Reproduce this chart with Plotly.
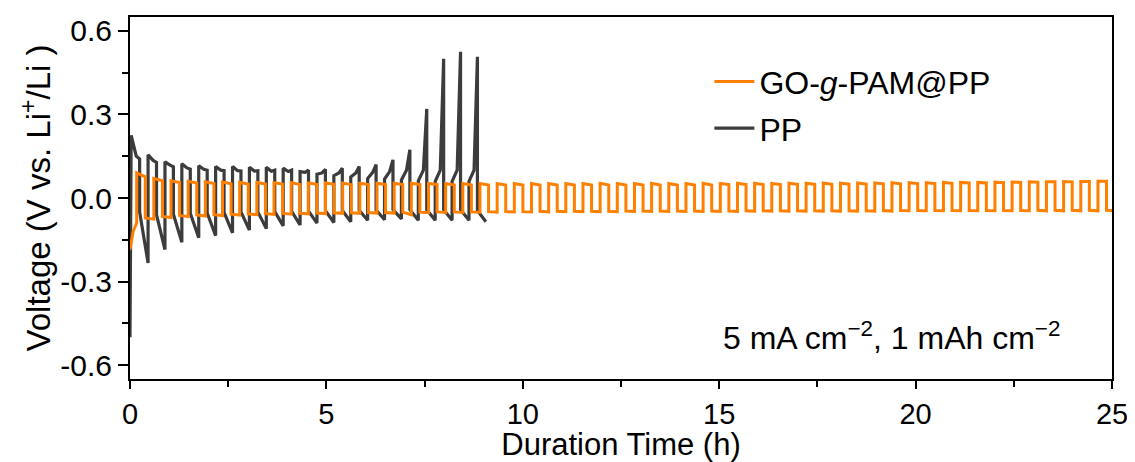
import plotly.graph_objects as go

# ---------------- data ----------------
# GO-g-PAM@PP (orange): lead-in, then square-wave cycles
GO_PERIOD_H = 0.437
GO_FIRST_UP_H = 0.17
go_lead_t = [0.0, 0.08, 0.17]
go_lead_v = [-0.185, -0.12, -0.09]
go_hi_start = [0.090, 0.070, 0.062, 0.060, 0.058, 0.057, 0.056, 0.056, 0.055, 0.055,
               0.054, 0.054, 0.054, 0.053, 0.053, 0.053, 0.053, 0.052, 0.052, 0.052,
               0.052, 0.052, 0.052, 0.052, 0.052, 0.052, 0.052, 0.053, 0.052, 0.052,
               0.053, 0.052, 0.052, 0.053, 0.052, 0.053, 0.053, 0.052, 0.053, 0.053,
               0.054, 0.053, 0.054, 0.054, 0.055, 0.055, 0.055, 0.056, 0.056, 0.056,
               0.057, 0.057, 0.058, 0.058, 0.059, 0.059, 0.060]
go_hi_end = [0.076, 0.062, 0.056, 0.054, 0.052, 0.051, 0.050, 0.050, 0.050, 0.049,
             0.049, 0.049, 0.048, 0.048, 0.048, 0.048, 0.048, 0.048, 0.047, 0.047,
             0.047, 0.047, 0.047, 0.047, 0.047, 0.047, 0.047, 0.047, 0.047, 0.047,
             0.047, 0.047, 0.047, 0.047, 0.048, 0.048, 0.048, 0.048, 0.049, 0.049,
             0.049, 0.050, 0.050, 0.051, 0.051, 0.052, 0.052, 0.053, 0.054, 0.054,
             0.055, 0.056, 0.057, 0.058, 0.058, 0.059, 0.060]
go_lo_start = [-0.072, -0.066, -0.063, -0.061, -0.060, -0.058, -0.057, -0.056, -0.055, -0.055,
               -0.054, -0.053, -0.053, -0.052, -0.052, -0.051, -0.051, -0.050, -0.050, -0.050,
               -0.049, -0.049, -0.049, -0.048, -0.048, -0.048, -0.048, -0.048, -0.047, -0.047,
               -0.047, -0.047, -0.047, -0.047, -0.047, -0.046, -0.046, -0.046, -0.046, -0.046,
               -0.046, -0.046, -0.046, -0.045, -0.045, -0.045, -0.045, -0.045, -0.045, -0.045,
               -0.045, -0.045, -0.044, -0.044, -0.044, -0.044, -0.044]
go_lo_end = [-0.076, -0.070, -0.067, -0.065, -0.063, -0.061, -0.060, -0.059, -0.058, -0.057,
             -0.056, -0.055, -0.055, -0.054, -0.054, -0.060, -0.053, -0.052, -0.052, -0.051,
             -0.051, -0.050, -0.050, -0.050, -0.049, -0.049, -0.049, -0.049, -0.048, -0.048,
             -0.048, -0.048, -0.048, -0.048, -0.048, -0.047, -0.047, -0.047, -0.047, -0.047,
             -0.047, -0.047, -0.047, -0.047, -0.046, -0.046, -0.046, -0.046, -0.046, -0.046,
             -0.046, -0.046, -0.046, -0.046, -0.046, -0.046, -0.046]

# PP (dark grey): per-cycle values
PP_PERIOD_H = 0.43
PP_FIRST_UP_H = 0.03
pp_start_v = -0.50
pp_top = [0.225, 0.155, 0.130, 0.123, 0.116, 0.113, 0.113, 0.110, 0.110, 0.107,
          0.095, 0.085, 0.080, 0.075, 0.070, 0.068, 0.065, 0.062, 0.060, 0.060, 0.060]
pp_mid = [0.150, 0.135, 0.118, 0.108, 0.103, 0.100, 0.098, 0.097, 0.096, 0.095,
          0.092, 0.090, 0.090, 0.090, 0.092, 0.095, 0.100, 0.100, 0.100, 0.100, 0.100]
pp_end = [0.140, 0.128, 0.112, 0.104, 0.100, 0.098, 0.097, 0.098, 0.100, 0.100,
          0.100, 0.103, 0.107, 0.113, 0.120, 0.137, 0.173, 0.320, 0.500, 0.525, 0.507]
pp_neg_start = [-0.050, -0.060, -0.058, -0.055, -0.054, -0.052, -0.050, -0.050, -0.049, -0.048,
                -0.047, -0.046, -0.045, -0.044, -0.043, -0.042, -0.042, -0.042, -0.042, -0.042, -0.045]
pp_neg_end = [-0.233, -0.185, -0.159, -0.143, -0.135, -0.125, -0.115, -0.110, -0.100, -0.097,
              -0.090, -0.088, -0.085, -0.080, -0.078, -0.075, -0.080, -0.080, -0.080, -0.080, -0.085]

y_tick_vals = [-0.6, -0.3, 0.0, 0.3, 0.6]
y_tick_text = ["-0.6", "-0.3", "0.0", "0.3", "0.6"]
y_minor_vals = [-0.45, -0.15, 0.15, 0.45]
x_tick_vals = [0, 5, 10, 15, 20, 25]
x_minor_vals = [2.5, 7.5, 12.5, 17.5, 22.5]

# ---------------- build traces ----------------
go_x = list(go_lead_t)
go_y = list(go_lead_v)
half = GO_PERIOD_H / 2
for k in range(len(go_hi_start)):
    t = GO_FIRST_UP_H + k * GO_PERIOD_H
    go_x += [t, t + half, t + half, t + GO_PERIOD_H]
    go_y += [go_hi_start[k], go_hi_end[k], go_lo_start[k], go_lo_end[k]]

pp_x = [0.0]
pp_y = [pp_start_v]
ph = PP_PERIOD_H / 2
for k in range(len(pp_top)):
    t = PP_FIRST_UP_H + k * PP_PERIOD_H
    pp_x += [t, t + 0.6 * ph, t + ph, t + ph, t + PP_PERIOD_H]
    pp_y += [pp_top[k], pp_mid[k], pp_end[k], pp_neg_start[k], pp_neg_end[k]]

FONT = "Liberation Sans, Arial, sans-serif"
ORANGE = "#FF8000"
GREY = "#3C3C3C"

fig = go.Figure()
fig.add_trace(go.Scatter(x=pp_x, y=pp_y, mode="lines", name="PP",
                         line=dict(color=GREY, width=3.2), legendrank=2, legendgroup="b"))
fig.add_trace(go.Scatter(x=go_x, y=go_y, mode="lines", name="GO-<i>g</i>-PAM@PP",
                         line=dict(color=ORANGE, width=3), legendrank=1, legendgroup="a"))

fig.add_annotation(text="5 mA cm<sup>\u22122</sup>, 1 mAh cm<sup>\u22122</sup>",
                   xref="paper", yref="paper", x=0.775, y=0.12,
                   xanchor="center", yanchor="middle", showarrow=False,
                   font=dict(size=32, color="black", family=FONT))

# the page body adds an 8 px offset, so the figure is 8 px smaller on each side
fig.update_layout(
    width=1127, height=454,
    margin=dict(l=122, r=23, t=9, b=83, autoexpand=False),
    paper_bgcolor="white", plot_bgcolor="white",
    font=dict(family=FONT, size=30, color="black"),
    legend=dict(x=0.59, y=0.897, xanchor="left", yanchor="top",
                bgcolor="rgba(0,0,0,0)", font=dict(size=32),
                traceorder="grouped", tracegroupgap=2, itemwidth=40),
    showlegend=True,
)
fig.update_xaxes(range=[0, 25], showline=True, linecolor="black", linewidth=2, mirror=True,
                 ticks="outside", ticklen=8, tickwidth=2, tickcolor="black",
                 tickvals=x_tick_vals, showgrid=False, zeroline=False, automargin=False,
                 minor=dict(tickvals=x_minor_vals, ticks="outside", ticklen=6, tickwidth=2,
                            tickcolor="black", showgrid=False),
                 tickfont=dict(size=29), title=dict(text="Duration Time (h)", font=dict(size=31), standoff=3))
fig.update_yaxes(range=[-0.65, 0.65], showline=True, linecolor="black", linewidth=2, mirror=True,
                 ticks="outside", ticklen=10, tickwidth=2, tickcolor="black",
                 tickvals=y_tick_vals, ticktext=y_tick_text, showgrid=False, zeroline=False,
                 automargin=False,
                 minor=dict(tickvals=y_minor_vals, ticks="outside", ticklen=6, tickwidth=2,
                            tickcolor="black", showgrid=False),
                 tickfont=dict(size=30),
                 title=dict(text="Voltage (V vs. Li<sup>+</sup>/Li )", font=dict(size=33), standoff=0))

fig.write_html("out.html")
